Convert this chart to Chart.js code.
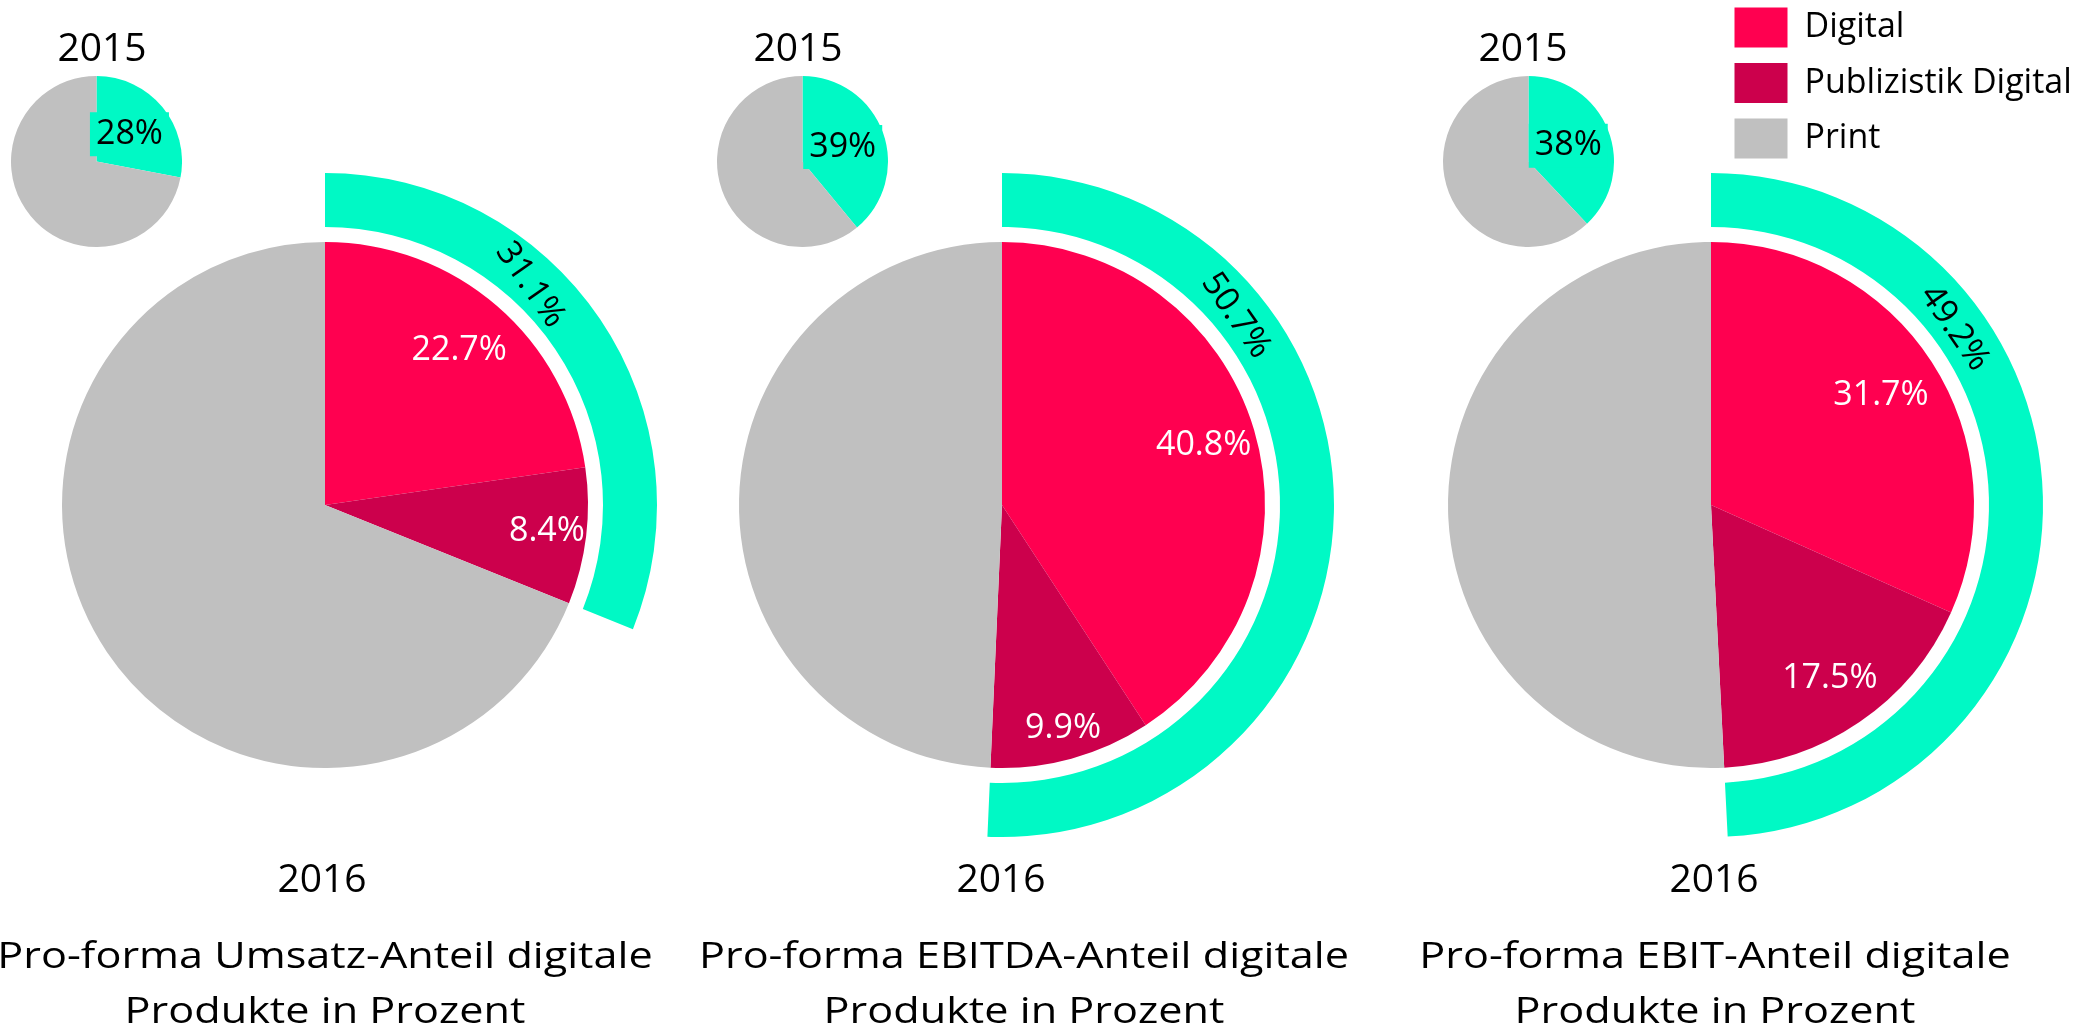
<!DOCTYPE html>
<html><head><meta charset="utf-8">
<script src="https://cdn.jsdelivr.net/npm/chart.js@4.4.1/dist/chart.umd.min.js"></script>
<style>
html,body{margin:0;padding:0;background:#fff;overflow:hidden;width:2094px;height:1029px;}
#root{position:relative;width:2094px;height:1029px;overflow:hidden;}
.box{position:absolute;}
</style></head><body>
<div id="root"></div>
<script>
// ---------- data ----------
const categories = ['Digital', 'Publizistik Digital', 'Print'];
const titleLines = [
  ['Pro-forma Umsatz-Anteil digitale', 'Produkte in Prozent'],
  ['Pro-forma EBITDA-Anteil digitale', 'Produkte in Prozent'],
  ['Pro-forma EBIT-Anteil digitale', 'Produkte in Prozent']
];
const yearLabels = ['2015', '2016'];
const digital2016 = [22.7, 40.8, 31.7];
const publizistik2016 = [8.4, 9.9, 17.5];
const print2016 = [68.9, 49.3, 50.8];
const digitalTotal2016 = [31.1, 50.7, 49.2];
const digital2015 = [28, 39, 38];
const print2015 = [72, 61, 62];

// ---------- style / layout ----------
const COLORS = { digital: '#FF0050', publ: '#CC004C', print: '#C0C0C0', teal: '#00F9C5', none: 'rgba(0,0,0,0)' };
const FONT = "'Open Sans', sans-serif";
const L = {
  bigCx: [325, 1002, 1711], bigCy: 505, pieR: 263, gap: 15, ringW: 54,
  bigHalfW: 360,
  smallCx: [96, 802, 1528], smallCy: 161, smallR: 85.5,
  y2015X: [102, 798, 1523], y2015Y: 61,
  y2016X: [322, 1001, 1714], y2016Y: 892,
  titleX: [325, 1024, 1715], titleY: [968, 1023],
  ringLabelDeg: [43, 51, 54], ringLabelRot: 55,
  innerLabelF: [[0.78, 0.85], [0.8, 0.88], [0.77, 0.8]],
  yearFont: 39, titleFont: 36, titleHScale: 1.2, labelFont: 34, legendFont: 34
};

Chart.defaults.font.family = FONT;
const root = document.getElementById('root');
function makeBox(left, top, w, h) {
  const d = document.createElement('div');
  d.className = 'box';
  d.style.left = left + 'px'; d.style.top = top + 'px';
  d.style.width = w + 'px'; d.style.height = h + 'px';
  const c = document.createElement('canvas');
  d.appendChild(c); root.appendChild(d);
  return c;
}
const fmt1 = v => v.toFixed(1) + '%';
const baseOpts = {
  responsive: true, maintainAspectRatio: false, animation: false, events: [],
  plugins: { legend: { display: false }, tooltip: { enabled: false } }
};

for (let g = 0; g < 3; g++) {
  const cx = L.bigCx[g];
  const outerR = L.pieR + L.gap + L.ringW;
  const left = cx - L.bigHalfW;
  const W = 2 * L.bigHalfW, H = 1029;
  const top = L.bigCy - outerR;
  const canvas = makeBox(left, 0, W, H);
  const textPlugin = {
    id: 'texts' + g,
    afterDatasetsDraw(chart) {
      const ctx = chart.ctx;
      ctx.save();
      // inner slice labels
      const meta = chart.getDatasetMeta(2);
      ctx.fillStyle = '#fff';
      ctx.font = L.labelFont + 'px ' + FONT;
      ctx.textAlign = 'center'; ctx.textBaseline = 'middle';
      [digital2016[g], publizistik2016[g]].forEach((v, j) => {
        const p = meta.data[j].getProps(['x', 'y', 'startAngle', 'endAngle', 'outerRadius'], true);
        const a = (p.startAngle + p.endAngle) / 2;
        const r = p.outerRadius * L.innerLabelF[g][j];
        ctx.fillText(fmt1(v), p.x + r * Math.cos(a), p.y + r * Math.sin(a));
      });
      // ring label
      const rp = chart.getDatasetMeta(0).data[0].getProps(['x', 'y', 'startAngle', 'innerRadius', 'outerRadius'], true);
      const ra = rp.startAngle + L.ringLabelDeg[g] * Math.PI / 180;
      const rr = (rp.innerRadius + rp.outerRadius) / 2 - 4;
      ctx.save();
      ctx.translate(rp.x + rr * Math.cos(ra), rp.y + rr * Math.sin(ra));
      ctx.rotate(L.ringLabelRot * Math.PI / 180);
      ctx.fillStyle = '#000';
      ctx.fillText(fmt1(digitalTotal2016[g]), 0, 0);
      ctx.restore();
      // years and titles
      ctx.fillStyle = '#000';
      ctx.textBaseline = 'alphabetic';
      ctx.font = L.yearFont + 'px ' + FONT;
      ctx.fillText(yearLabels[0], L.y2015X[g] - left, L.y2015Y);
      ctx.fillText(yearLabels[1], L.y2016X[g] - left, L.y2016Y);
      ctx.font = L.titleFont + 'px ' + FONT;
      titleLines[g].forEach((t, k) => {
        ctx.save();
        ctx.translate(L.titleX[g] - left, L.titleY[k]);
        ctx.scale(L.titleHScale, 1);
        ctx.fillText(t, 0, 0);
        ctx.restore();
      });
      ctx.restore();
    }
  };
  new Chart(canvas, {
    type: 'pie',
    data: {
      labels: categories,
      datasets: [
        { data: [digitalTotal2016[g], print2016[g]], backgroundColor: [COLORS.teal, COLORS.none], weight: L.ringW, borderWidth: 0, hoverOffset: 0 },
        { data: [100], backgroundColor: [COLORS.none], weight: L.gap, borderWidth: 0, hoverOffset: 0 },
        { data: [digital2016[g], publizistik2016[g], print2016[g]], backgroundColor: [COLORS.digital, COLORS.publ, COLORS.print], weight: L.pieR, borderWidth: 0, hoverOffset: 0 }
      ]
    },
    options: Object.assign({}, baseOpts, {
      layout: { padding: { left: L.bigHalfW - outerR, right: L.bigHalfW - outerR, top: top, bottom: H - top - 2 * outerR } }
    }),
    plugins: [textPlugin]
  });

  // small 2015 pie
  const sc = makeBox(L.smallCx[g] - L.smallR, L.smallCy - L.smallR, 2 * L.smallR, 2 * L.smallR);
  const smallPlugin = {
    id: 'small' + g,
    afterDatasetsDraw(chart) {
      const ctx = chart.ctx;
      const p = chart.getDatasetMeta(0).data[0].getProps(['x', 'y', 'startAngle', 'endAngle', 'outerRadius'], true);
      const a = (p.startAngle + p.endAngle) / 2;
      const r = p.outerRadius * 0.5;
      const x = p.x + r * Math.cos(a), y = p.y + r * Math.sin(a);
      const txt = digital2015[g] + '%';
      ctx.save();
      ctx.font = L.labelFont + 'px ' + FONT;
      const w = ctx.measureText(txt).width + 12;
      ctx.fillStyle = COLORS.teal;
      ctx.fillRect(x - w / 2, y - 22, w, 44);
      ctx.fillStyle = '#000';
      ctx.textAlign = 'center'; ctx.textBaseline = 'middle';
      ctx.fillText(txt, x, y);
      ctx.restore();
    }
  };
  new Chart(sc, {
    type: 'pie',
    data: {
      labels: ['Digital', 'Print'],
      datasets: [{ data: [digital2015[g], print2015[g]], backgroundColor: [COLORS.teal, COLORS.print], borderWidth: 0, hoverOffset: 0 }]
    },
    options: baseOpts,
    plugins: [smallPlugin]
  });
}

// legend-only chart
const lc = makeBox(1718.5, -8.5, 900, 240);
new Chart(lc, {
  type: 'doughnut',
  data: {
    labels: categories,
    datasets: [{ data: [0, 0, 0], backgroundColor: [COLORS.digital, COLORS.publ, COLORS.print], borderWidth: 0, hoverOffset: 0 }]
  },
  options: {
    responsive: true, maintainAspectRatio: false, animation: false, events: [],
    plugins: {
      tooltip: { enabled: false },
      legend: {
        display: true, position: 'left', align: 'start',
        labels: { boxWidth: 53, boxHeight: 40, padding: 15.5, color: '#000', font: { family: FONT, size: L.legendFont } }
      }
    }
  }
});
</script>
</body></html>
